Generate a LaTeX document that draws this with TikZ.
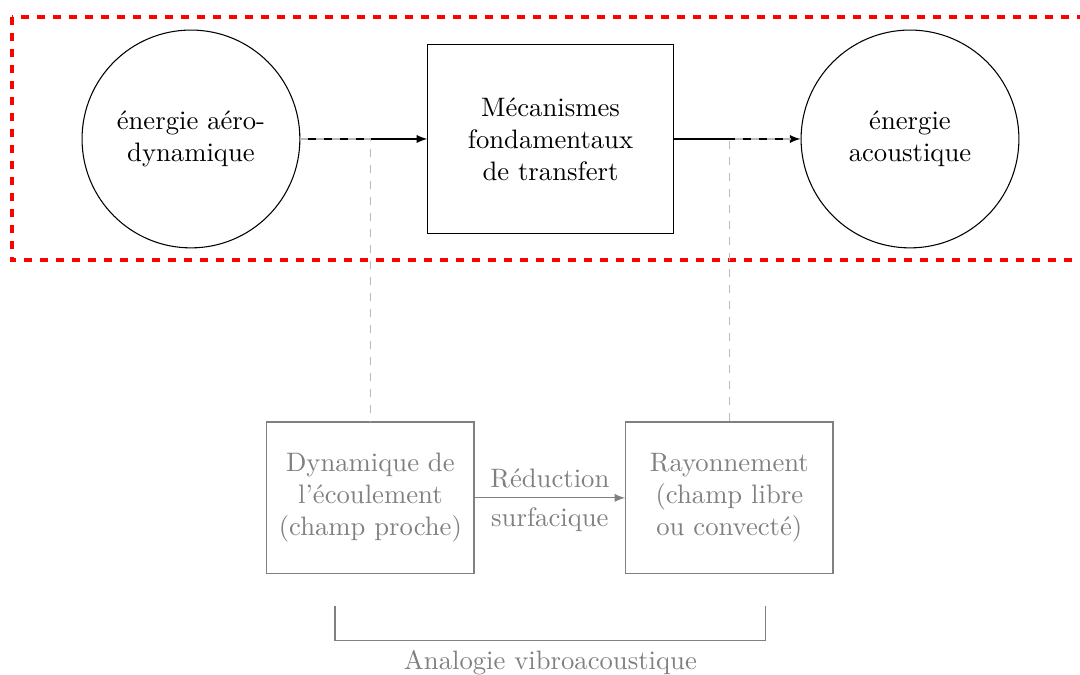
\documentclass[tikz,border=0pt]{standalone}
\usetikzlibrary{calc}

\begin{document}
\begin{tikzpicture}[
	energy/.style={draw, circle, minimum size=2.87cm, align=center, inner sep=1pt},
	mecabox/.style={draw, rectangle, minimum width=3.23cm, minimum height=2.48cm, align=center},
	grisbox/.style={draw=gray, text=gray, rectangle, minimum width=2.73cm, minimum height=2.0cm, align=center},
	lien/.style={dashed, gray!55},
]

	\useasboundingbox (0,0) rectangle (14.23,-8.89);

	% points
	\coordinate (P) at (2.516,-1.831);
	\coordinate (M) at (7.253,-1.831);
	\coordinate (Q) at (11.99,-1.831);

	\coordinate (D) at (4.88,-6.56);
	\coordinate (R) at (9.61,-6.56);

	\coordinate (U) at (4.414,-7.984);
	\coordinate (V) at (10.09,-7.984);

	% main chain
	\node[energy] (aero) at (P) {énergie aéro-\\dynamique};
	\node[mecabox] (meca) at (M) {Mécanismes\\fondamentaux\\de transfert};
	\node[energy] (acou) at (Q) {énergie\\acoustique};

	\draw[-latex] (aero) -- (meca);
	\draw[-latex] (meca) -- (acou);

	% frame
	\draw[red, ultra thick, dashed] (0.154,-0.22) rectangle (14.35,-3.43);

	% lower chain
	\node[grisbox] (dyna) at (D) {Dynamique de\\l'écoulement\\(champ proche)};
	\node[grisbox] (rayo) at (R) {Rayonnement\\(champ libre\\ou convecté)};

	\draw[gray, -latex] (dyna) -- node[above] {Réduction} node[below] {surfacique} (rayo);

	\draw[lien] (aero.east) -| (dyna.north);
	\draw[lien] ($(acou.west)+(-0.12,0)$) -| (rayo.north);

	% bracket
	\draw[gray] (U) -- ($(U)+(0,-0.461)$) -- node[below, text=gray] {Analogie vibroacoustique} ($(V)+(0,-0.461)$) -- (V);

\end{tikzpicture}
\end{document}
